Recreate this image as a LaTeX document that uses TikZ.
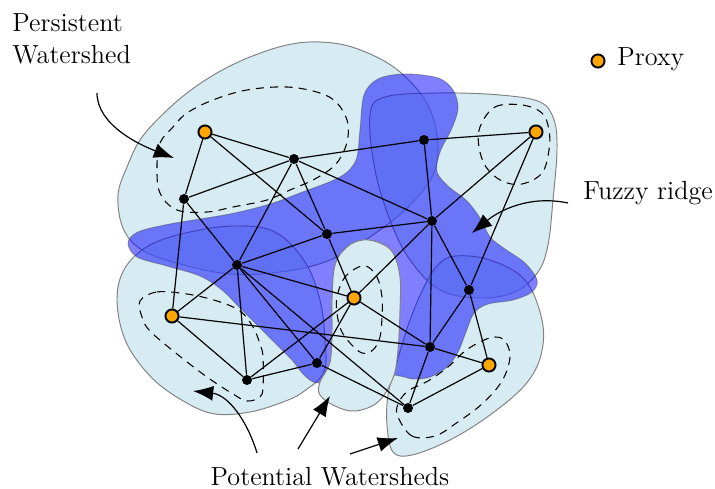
\documentclass[tikz,border=0pt]{standalone}
\usetikzlibrary{arrows.meta}
\definecolor{proxyc}{RGB}{255,165,0}
\definecolor{wsblue}{RGB}{173,216,230}
\definecolor{wsflat}{RGB}{214,235,242}
\begin{document}
\begin{tikzpicture}[x=0.42pt,y=-0.42pt,
  ws/.style={fill=wsblue, fill opacity=0.5, draw=black!50, line width=0.4pt},
  wsopaque/.style={fill=wsflat, draw=black!50, line width=0.4pt},
  ridge/.style={fill=blue, fill opacity=0.5, draw=black!70, draw opacity=0.45, line width=0.4pt},
  loopline/.style={line width=0.45pt, dash pattern=on 3.4pt off 2.6pt},
  edge/.style={line width=0.5pt},
  dot/.style={circle, fill=black, inner sep=0pt, minimum size=4.2pt},
  proxy/.style={circle, fill=proxyc, draw=black, line width=0.8pt, inner sep=0pt, minimum size=5.5pt},
  lbl/.style={inner sep=0pt, font=\fontsize{11}{13.6}\selectfont},
  callout/.style={-{Latex[length=8.5pt,width=6.3pt]}, line width=0.5pt}]
\useasboundingbox (0,0) rectangle (715,489);

% watershed blobs
\draw[ws] plot[smooth cycle, tension=0.6] coordinates {(118,195) (127,167) (140,140) (160,117) (187,93) (217,73) (250,57) (287,45) (320,42) (355,48) (395,68) (425,100) (437,135) (435,170) (415,200) (380,230) (330,260) (280,272) (230,274) (180,264) (142,250) (123,228)};
\draw[ws] plot[smooth cycle, tension=0.6] coordinates {(370,115) (385,97) (440,93) (500,95) (540,102) (554,120) (557,150) (553,200) (548,245) (538,272) (515,292) (480,298) (440,290) (410,260) (390,220) (375,170)};
\draw[ws] plot[smooth cycle, tension=0.6] coordinates {(117,300) (125,268) (150,245) (190,232) (235,226) (275,232) (305,262) (320,300) (325,340) (324,372) (303,392) (283,402) (250,412) (215,414) (185,402) (152,378) (126,342)};
\draw[ws] plot[smooth cycle, tension=0.6] coordinates {(455,256) (490,260) (525,280) (542,320) (541,355) (525,385) (490,415) (450,440) (412,455) (393,452) (387,425) (388,395) (396,365) (410,320) (425,285) (438,265)};

% fuzzy ridge
\draw[ridge] plot[smooth cycle, tension=0.55] coordinates {(128,243) (137,257) (167,266) (200,276) (222,290) (240,308) (260,328) (277,345) (292,360) (305,376) (318,383) (340,376) (370,372) (400,376) (413,379) (430,377) (447,367) (458,352) (466,332) (474,313) (488,304) (513,300) (532,292) (537,280) (525,263) (505,249) (490,237) (480,218) (466,200) (449,187) (437,172) (440,152) (452,128) (458,108) (453,90) (438,78) (405,74) (378,79) (364,95) (360,130) (356,160) (340,177) (300,193) (270,204) (230,214) (170,224) (138,232)};

% central potential watershed
\draw[wsopaque] plot[smooth cycle, tension=0.6] coordinates {(332,300) (335,265) (347,247) (363,240) (380,243) (393,253) (400,277) (400,310) (398,350) (393,378) (378,402) (355,411) (335,406) (320,395) (320,382) (330,362) (332,330)};

% dashed loops
\draw[loopline] plot[smooth cycle, tension=0.6] coordinates {(157,167) (160,143) (173,127) (187,113) (213,100) (247,90) (287,87) (320,93) (337,103) (347,120) (348,137) (343,153) (333,167) (313,180) (290,190) (267,200) (233,207) (207,212) (177,210) (160,193)};
\draw[loopline] plot[smooth cycle, tension=0.6] coordinates {(480,127) (495,107) (522,105) (542,113) (549,130) (549,150) (542,173) (522,184) (502,181) (486,167) (479,147)};
\draw[loopline] plot[smooth cycle, tension=0.6] coordinates {(140,301) (157,292) (187,294) (217,301) (240,311) (253,327) (260,344) (263,357) (263,387) (260,397) (247,401) (233,394) (207,377) (177,354) (150,331) (142,317)};
\draw[loopline] plot[smooth cycle, tension=0.6] coordinates {(337,297) (343,280) (353,270) (366,266) (377,277) (382,297) (382,317) (380,337) (373,350) (362,353) (350,343) (341,330) (337,313)};
\draw[loopline] plot[smooth cycle, tension=0.6] coordinates {(398,417) (412,436) (435,436) (455,424) (482,404) (502,381) (510,357) (505,341) (495,337) (482,341) (465,351) (448,367) (428,381) (408,391) (398,404)};

% graph nodes
\node[proxy] (P1) at (205,132) {};
\node[proxy] (P2) at (536,132) {};
\node[proxy] (P3) at (172,316) {};
\node[proxy] (P4) at (354,298) {};
\node[proxy] (P5) at (489,365) {};
\node[dot] (a) at (294,159) {};
\node[dot] (b) at (424,140) {};
\node[dot] (c) at (184,199) {};
\node[dot] (d) at (327,234) {};
\node[dot] (e) at (432,221) {};
\node[dot] (f) at (237,265) {};
\node[dot] (g) at (469,290) {};
\node[dot] (h) at (430,347) {};
\node[dot] (i) at (317,363) {};
\node[dot] (j) at (247,380) {};
\node[dot] (k) at (408,408) {};

\foreach \u/\v in {P1/a, P1/c, P1/d, c/a, a/b, a/d, a/f, a/e, b/P2, b/e, c/f, c/P3, d/e, d/f, d/P4, e/P2, e/P4, e/h, e/g, P2/g, f/P3, f/P4, f/j, f/i, f/k, P3/h, P3/j, P4/j, P4/i, P4/h, j/i, i/k, h/k, h/g, h/P5, g/P5, k/P5}
  \draw[edge] (\u) -- (\v);

% legend
\node[proxy] (legp) at (598,61) {};
\node[lbl, anchor=base west] (legt) at (617,66) {Proxy};

% labels and callouts
\node[lbl, anchor=north west, align=left] (lpers) at (12,13) {Persistent\\Watershed};
\node[lbl, anchor=base west] (lfuzzy) at (583,200) {Fuzzy ridge};
\node[lbl, anchor=base] (lpot) at (330,486) {Potential Watersheds};

\coordinate (s1) at (97,93);
\coordinate (t1) at (174,158);
\coordinate (s2) at (568,203);
\coordinate (t2) at (472,233);
\coordinate (s3) at (257,453);
\coordinate (t3) at (193,391);
\coordinate (s4) at (298,449);
\coordinate (t4) at (330,396);
\coordinate (s5) at (350,454);
\coordinate (t5) at (398,438);
\draw[callout] (s1) .. controls (97,125) and (140,145) .. (t1);
\draw[callout] (s2) .. controls (530,195) and (500,210) .. (t2);
\draw[callout] (s3) .. controls (247,420) and (228,395) .. (t3);
\draw[callout] (s4) -- (t4);
\draw[callout] (s5) -- (t5);
\end{tikzpicture}
\end{document}
